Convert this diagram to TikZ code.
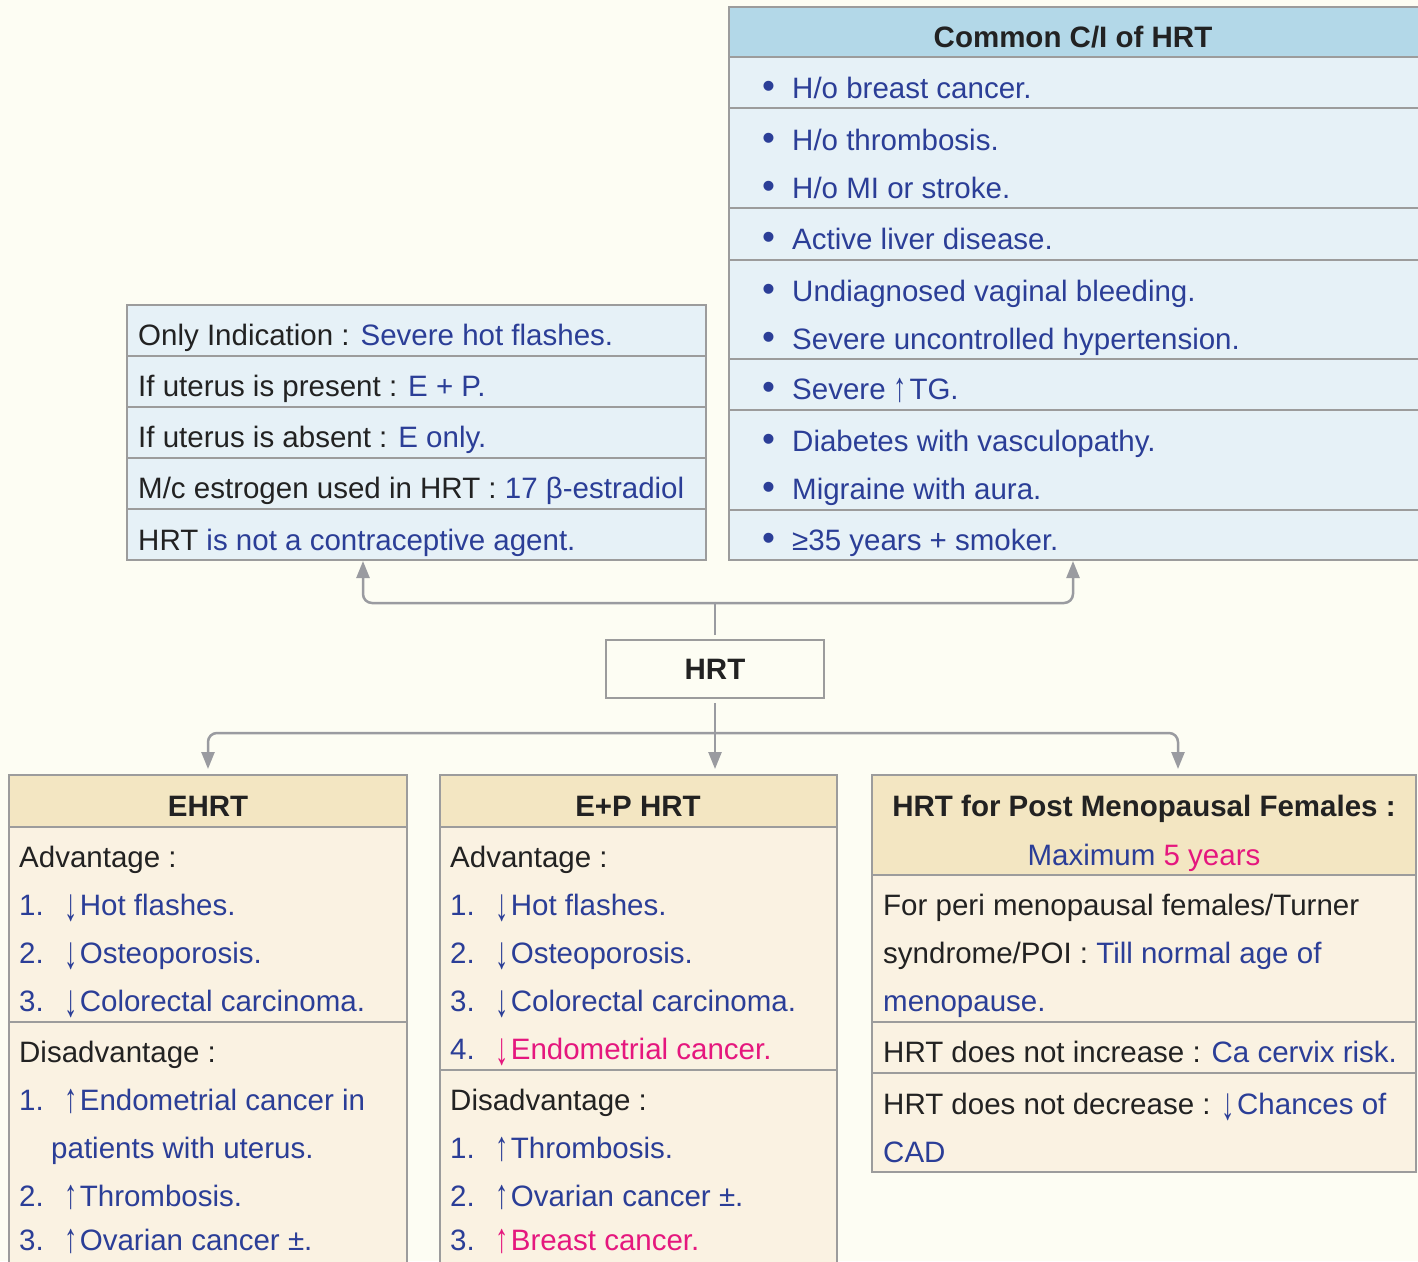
\documentclass[tikz,border=0pt]{standalone}
\usepackage{fontspec}
\setmainfont{Liberation Sans}
\usetikzlibrary{arrows.meta}
\definecolor{bg}{HTML}{FDFDF3}
\definecolor{hblue}{HTML}{B3D8E8}
\definecolor{lblue}{HTML}{E6F1F7}
\definecolor{hbeige}{HTML}{F3E6C2}
\definecolor{lbeige}{HTML}{FAF2E2}
\definecolor{edge}{HTML}{9C9C9C}
\definecolor{ink}{HTML}{222222}
\definecolor{tblue}{HTML}{2B3E97}
\definecolor{tpink}{HTML}{E5177E}
\definecolor{connc}{HTML}{9A9BA0}
\newcommand\fs{\fontsize{29.5}{48}\selectfont}
\newcommand\bl[1]{\textcolor{tblue}{#1}}
\newcommand\pk[1]{\textcolor{tpink}{#1}}
\newcommand\dnar{\raisebox{-0.2em}{\scalebox{0.9}[1.55]{↓}}\hspace{0.08em}}
\newcommand\upar{\raisebox{-0.08em}[0.8em][0pt]{\scalebox{0.9}[1.4]{↑}}\hspace{0.08em}}
% bullet item in the C/I box
\newcommand\citem[3]{\node[t] (#1b) at (762,#2) {\bl{\scalebox{1.25}{•}}}; \node[t] (#1) at (792,#2) {\bl{#3}};}
% numbered item: name, x, baseline, number, text
\newcommand\nitem[5]{\node[t] (#1n) at (#2,#3) {\bl{#4}}; \node[t] (#1) at ({#2+45},#3) {#5};}
\begin{document}
\begin{tikzpicture}[x=1pt,y=-1pt,
  box/.style={draw=edge, line width=2pt, inner sep=0pt, outer sep=0pt, rectangle},
  sepl/.style={draw=edge, line width=2pt},
  t/.style={anchor=base west, inner sep=0pt, font=\fs, text=ink},
  tc/.style={anchor=base, inner sep=0pt, font=\fs\bfseries, text=ink},
  conn/.style={draw=connc, line width=2.5pt, rounded corners=9pt},
  arr/.style={-{Triangle[width=13pt,length=17pt]}}
]
\useasboundingbox (0,0) rectangle (1418,1261);
\clip (0,0) rectangle (1418,1261);
\fill[bg] (0,0) rectangle (1418,1261);

% ---------- Common C/I box ----------
\fill[lblue] (729,7) rectangle (1422,560);
\fill[hblue] (729,7) rectangle (1422,57);
\foreach \yy in {57,108,208,260,359,410,510} \draw[sepl] (729,\yy) -- (1422,\yy);
\node[box, anchor=north west, minimum width=693pt, minimum height=553pt] (cbox) at (729,7) {};
\node[tc] (ctitle) at (1073,47) {Common C/I of HRT};
\citem{c1}{98}{H/o breast cancer.}
\citem{c2}{150}{H/o thrombosis.}
\citem{c3}{198}{H/o MI or stroke.}
\citem{c4}{249}{Active liver disease.}
\citem{c5}{301}{Undiagnosed vaginal bleeding.}
\citem{c6}{349}{Severe uncontrolled hypertension.}
\citem{c7}{399}{Severe \upar TG.}
\citem{c8}{451}{Diabetes with vasculopathy.}
\citem{c9}{499}{Migraine with aura.}
\citem{c10}{550}{≥35 years + smoker.}

% ---------- Left info box ----------
\fill[lblue] (127,305) rectangle (706,560);
\foreach \yy in {356,407,458,509} \draw[sepl] (127,\yy) -- (706,\yy);
\node[box, anchor=north west, minimum width=579pt, minimum height=255pt] (lbox) at (127,305) {};
\node[t] (l1) at (138,345) {Only Indication : \bl{Severe hot flashes.}};
\node[t] (l2) at (138,396) {If uterus is present : \bl{E + P.}};
\node[t] (l3) at (138,447) {If uterus is absent : \bl{E only.}};
\node[t] (l4) at (138,498) {M/c estrogen used in HRT : \bl{17 β-estradiol}};
\node[t] (l5) at (138,550) {HRT \bl{is not a contraceptive agent.}};

% ---------- HRT ----------
\node[box, fill=bg, anchor=north west, minimum width=218pt, minimum height=58pt, font=\fs\bfseries, text=ink] (hrt) at (606,640) {HRT};

% ---------- EHRT ----------
\fill[lbeige] (9,775) rectangle (407,1280);
\fill[hbeige] (9,775) rectangle (407,827);
\foreach \yy in {827,1022} \draw[sepl] (9,\yy) -- (407,\yy);
\node[box, anchor=north west, minimum width=398pt, minimum height=505pt] (ehrt) at (9,775) {};
\node[tc] (etitle) at (208,816) {EHRT};
\node[t] (eadv) at (19,867) {Advantage :};
\nitem{e1}{19}{915}{1.}{\bl{\dnar Hot flashes.}}
\nitem{e2}{19}{963}{2.}{\bl{\dnar Osteoporosis.}}
\nitem{e3}{19}{1011}{3.}{\bl{\dnar Colorectal carcinoma.}}
\node[t] (edis) at (19,1062) {Disadvantage :};
\nitem{e4}{19}{1110}{1.}{\bl{\upar Endometrial cancer in}}
\node[t] (e5) at (51,1158) {\bl{patients with uterus.}};
\nitem{e6}{19}{1206}{2.}{\bl{\upar Thrombosis.}}
\nitem{e7}{19}{1250}{3.}{\bl{\upar Ovarian cancer ±.}}

% ---------- E+P HRT ----------
\fill[lbeige] (440,775) rectangle (837,1280);
\fill[hbeige] (440,775) rectangle (837,827);
\foreach \yy in {827,1070} \draw[sepl] (440,\yy) -- (837,\yy);
\node[box, anchor=north west, minimum width=397pt, minimum height=505pt] (ephrt) at (440,775) {};
\node[tc] (ptitle) at (638,816) {E+P HRT};
\node[t] (padv) at (450,867) {Advantage :};
\nitem{p1}{450}{915}{1.}{\bl{\dnar Hot flashes.}}
\nitem{p2}{450}{963}{2.}{\bl{\dnar Osteoporosis.}}
\nitem{p3}{450}{1011}{3.}{\bl{\dnar Colorectal carcinoma.}}
\nitem{p4}{450}{1059}{4.}{\pk{\dnar Endometrial cancer.}}
\node[t] (pdis) at (450,1110) {Disadvantage :};
\nitem{p5}{450}{1158}{1.}{\bl{\upar Thrombosis.}}
\nitem{p6}{450}{1206}{2.}{\bl{\upar Ovarian cancer ±.}}
\nitem{p7}{450}{1250}{3.}{\pk{\upar Breast cancer.}}

% ---------- Post menopausal box ----------
\fill[lbeige] (872,775) rectangle (1416,1172);
\fill[hbeige] (872,775) rectangle (1416,875);
\foreach \yy in {875,1022,1073} \draw[sepl] (872,\yy) -- (1416,\yy);
\node[box, anchor=north west, minimum width=544pt, minimum height=397pt] (pbox) at (872,775) {};
\node[tc] (pmtitle) at (1144,816) {HRT for Post Menopausal Females :};
\node[t, anchor=base] (pmmax) at (1144,865) {\bl{Maximum} \pk{5 years}};
\node[t] (r1) at (883,915) {For peri menopausal females/Turner};
\node[t] (r2) at (883,963) {syndrome/POI : \bl{Till normal age of}};
\node[t] (r3) at (883,1011) {\bl{menopause.}};
\node[t] (r4) at (883,1062) {HRT does not increase : \bl{Ca cervix risk.}};
\node[t] (r5) at (883,1114) {HRT does not decrease : \bl{\dnar Chances of}};
\node[t] (r6) at (883,1162) {\bl{CAD}};

% ---------- connectors ----------
\coordinate (tj) at (715,603);
\coordinate (la) at (363,561);
\coordinate (ra) at (1073,561);
\draw[conn, shorten <=5pt] (hrt.north) -- (tj);
\draw[conn, arr] (tj) -| (la);
\draw[conn, arr] (tj) -| (ra);
\coordinate (bj) at (715,733);
\coordinate (pa) at (1178,775);
\draw[conn, arr, shorten <=5pt, shorten >=6pt] (hrt.south) -- (hrt.south |- ephrt.north);
\draw[conn, arr, shorten >=6pt] (bj) -| (ehrt.north);
\draw[conn, arr, shorten >=6pt] (bj) -| (pa);
\end{tikzpicture}
\end{document}
